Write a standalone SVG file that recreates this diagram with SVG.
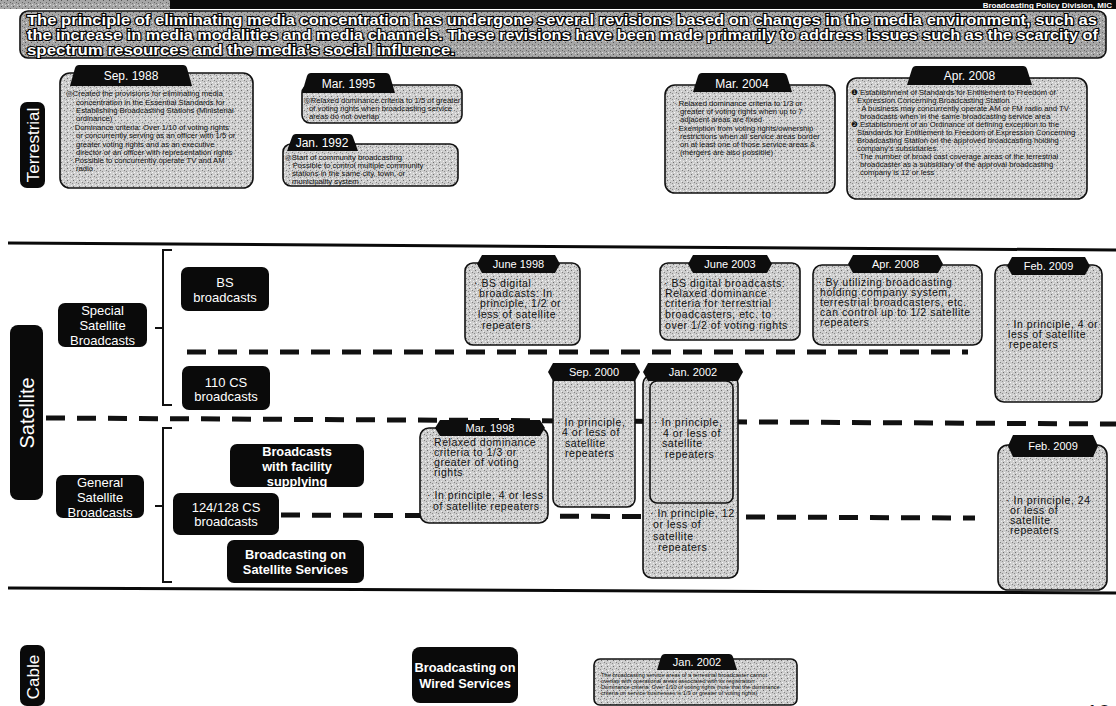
<svg xmlns="http://www.w3.org/2000/svg" width="1116" height="706" viewBox="0 0 1116 706">
<style>
text{font-family:"Liberation Sans","DejaVu Sans",Arial,sans-serif}
.box{fill:url(#ht);stroke:#111;stroke-width:1.6}
.tab{fill:#0d0d0d}
.tt{fill:#fff;font-size:12px;text-anchor:middle}
.ts{fill:#fff;font-size:11px;text-anchor:middle}
.sm{fill:#111;font-size:7.7px}
.xs{fill:#111;font-size:5.7px}
.md{fill:#111;font-size:10.5px;letter-spacing:0.55px}
.lbl{fill:#0a0a0a}
.lt{fill:#fff;font-size:13px;text-anchor:middle}
.lb{fill:#fff;font-size:12.8px;font-weight:bold;text-anchor:middle}
.div{stroke:#0a0a0a;stroke-width:3;fill:none}
.dash{stroke:#111;stroke-width:5;stroke-dasharray:19 12;fill:none}
.brk{stroke:#111;stroke-width:2;fill:none}
.ban{fill:#fff;stroke:#000;stroke-width:2.2;paint-order:stroke;font-size:14px;font-weight:bold}
</style>
<defs>
<pattern id="ht" width="6" height="6" patternUnits="userSpaceOnUse">
<rect width="6" height="6" fill="#cdcdcd"/>
<rect x="1" y="0" width="1" height="1" fill="#6e6e6e"/>
<rect x="4" y="2" width="1" height="1" fill="#808080"/>
<rect x="2" y="4" width="1" height="1" fill="#fafafa"/>
<rect x="0" y="3" width="1" height="1" fill="#8c8c8c"/>
<rect x="5" y="5" width="1" height="1" fill="#f0f0f0"/>
<rect x="3" y="1" width="1" height="1" fill="#eeeeee"/>
</pattern>
<pattern id="ht2" width="6" height="6" patternUnits="userSpaceOnUse">
<rect width="6" height="6" fill="#a6a6a6"/>
<rect x="1" y="0" width="1" height="1" fill="#555"/>
<rect x="4" y="2" width="1" height="1" fill="#666"/>
<rect x="2" y="4" width="1" height="1" fill="#e0e0e0"/>
<rect x="0" y="3" width="1" height="1" fill="#707070"/>
<rect x="5" y="5" width="1" height="1" fill="#d8d8d8"/>
</pattern>
</defs>
<rect width="1116" height="706" fill="#fff"/>

<g id="header">
<rect x="0" y="0" width="170" height="9" fill="url(#ht2)"/>
<rect x="170" y="0" width="946" height="9" fill="#0a0a0a"/>
<text x="1112" y="8" fill="#fff" font-size="8" font-weight="bold" text-anchor="end">Broadcasting Policy Division, MIC</text>
</g>

<g id="banner">
<rect x="20" y="11" width="1086" height="47" rx="8" fill="url(#ht2)" stroke="#111" stroke-width="1.6"/>
<text class="ban" x="27" y="24.5" textLength="1070" lengthAdjust="spacingAndGlyphs">The principle of eliminating media concentration has undergone several revisions based on changes in the media environment, such as</text>
<text class="ban" x="27" y="39.5" textLength="1071" lengthAdjust="spacingAndGlyphs">the increase in media modalities and media channels. These revisions have been made primarily to address issues such as the scarcity of</text>
<text class="ban" x="27" y="54.5" textLength="428" lengthAdjust="spacingAndGlyphs">spectrum resources and the media's social influence.</text>
</g>

<g id="connectors">
<line class="div" x1="8" y1="243" x2="1116" y2="250"/>
<line class="div" x1="8" y1="588" x2="1116" y2="593"/>
<line class="dash" x1="187" y1="352" x2="968" y2="352"/>
<line class="dash" x1="46" y1="418" x2="1116" y2="424"/>
<line class="dash" x1="281" y1="515" x2="975" y2="518"/>
<path class="brk" d="M172,250 H163 V405 H172 M163,328 H155"/>
<path class="brk" d="M172,428 H163 V582 H172 M163,506 H155"/>
</g>

<g id="lbl-terrestrial">
<rect class="lbl" x="20" y="102" width="25" height="86" rx="7"/>
<text x="0" y="0" transform="translate(38.5,145) rotate(-90)" fill="#fff" font-size="17" text-anchor="middle">Terrestrial</text>
</g>
<g id="lbl-satellite">
<rect class="lbl" x="10" y="325" width="33" height="175" rx="8"/>
<text x="0" y="0" transform="translate(34,413) rotate(-90)" fill="#fff" font-size="20" text-anchor="middle">Satellite</text>
</g>
<g id="lbl-cable">
<rect class="lbl" x="20" y="645" width="25" height="61" rx="7"/>
<text x="0" y="0" transform="translate(38.5,677) rotate(-90)" fill="#fff" font-size="17" text-anchor="middle">Cable</text>
</g>

<g id="special">
<rect class="lbl" x="58" y="303" width="89" height="44" rx="7"/>
<text class="lt" x="102.5" y="314.5">Special</text>
<text class="lt" x="102.5" y="329.5">Satellite</text>
<text class="lt" x="102.5" y="344.5">Broadcasts</text>
</g>
<g id="bs">
<rect class="lbl" x="181" y="267" width="88" height="44" rx="7"/>
<text class="lt" x="225" y="286.5">BS</text>
<text class="lt" x="225" y="301.5">broadcasts</text>
</g>
<g id="cs110">
<rect class="lbl" x="182" y="366" width="88" height="44" rx="7"/>
<text class="lt" x="226" y="386.5">110  CS</text>
<text class="lt" x="226" y="400.5">broadcasts</text>
</g>
<g id="general">
<rect class="lbl" x="56" y="475" width="88" height="43" rx="7"/>
<text class="lt" x="100" y="486.5">General</text>
<text class="lt" x="100" y="501.5">Satellite</text>
<text class="lt" x="100" y="516.5">Broadcasts</text>
</g>
<g id="facility">
<rect class="lbl" x="230" y="444" width="134" height="43" rx="7"/>
<text class="lb" x="297" y="455.5">Broadcasts</text>
<text class="lb" x="297" y="470.5">with facility</text>
<text class="lb" x="297" y="485.5">supplying</text>
</g>
<g id="cs124">
<rect class="lbl" x="173" y="493" width="106" height="42" rx="7"/>
<text class="lt" x="226" y="511.5">124/128  CS</text>
<text class="lt" x="226" y="526">broadcasts</text>
</g>
<g id="satsvc">
<rect class="lbl" x="227" y="540" width="137" height="43" rx="7"/>
<text class="lb" x="295.5" y="558.5">Broadcasting on</text>
<text class="lb" x="295.5" y="573.5">Satellite Services</text>
</g>
<g id="wired">
<rect class="lbl" x="412" y="647" width="106" height="56" rx="8"/>
<text class="lb" x="465" y="672" font-size="12.2">Broadcasting on</text>
<text class="lb" x="465" y="688" font-size="12.2">Wired Services</text>
</g>

<g id="t-1988">
<rect class="box" x="60" y="73" width="193" height="115" rx="10"/>
<path class="tab" d="M70,86 L75,68 Q76,65 79,65 L183,65 Q186,65 187,68 L192,86 Z"/>
<text class="tt" x="131" y="80">Sep. 1988</text>
<text class="sm" x="66" y="96">◎Created the provisions for eliminating media</text>
<text class="sm" x="76" y="105">concentration in the Essential Standards for</text>
<text class="sm" x="76" y="113">Establishing Broadcasting Stations (Ministerial</text>
<text class="sm" x="76" y="121">ordinance)</text>
<text class="sm" x="70" y="130">· Dominance criteria: Over 1/10 of voting rights</text>
<text class="sm" x="76" y="138">or concurrently serving as an officer with 1/5 or</text>
<text class="sm" x="76" y="147">greater voting rights and as an executive</text>
<text class="sm" x="76" y="155">director or an officer with representation rights</text>
<text class="sm" x="70" y="163">· Possible to concurrently operate TV and AM</text>
<text class="sm" x="76" y="171">radio</text>
</g>

<g id="t-1995">
<rect class="box" x="302" y="85" width="160" height="38" rx="8"/>
<path class="tab" d="M302,93 L307,76 Q308,73 311,73 L386,73 Q389,73 390,76 L395,93 Z"/>
<text class="tt" x="348.5" y="88">Mar. 1995</text>
<text class="sm" x="304" y="103">◎Relaxed dominance criteria to 1/5 of greater</text>
<text class="sm" x="309" y="111">of voting rights when broadcasting service</text>
<text class="sm" x="309" y="119">areas do not overlap</text>
</g>

<g id="t-1992">
<rect class="box" x="283" y="144" width="175" height="42" rx="8"/>
<path class="tab" d="M287,151 L292,137 Q293,134 296,134 L349,134 Q352,134 353,137 L358,151 Z"/>
<text class="tt" x="322" y="147">Jan. 1992</text>
<text class="sm" x="285" y="160">◎Start of community broadcasting</text>
<text class="sm" x="288" y="168">· Possible to control multiple community</text>
<text class="sm" x="292" y="176">stations in the same city, town, or</text>
<text class="sm" x="292" y="184">municipality system</text>
</g>

<g id="t-2004">
<rect class="box" x="665" y="85" width="170" height="108" rx="10"/>
<path class="tab" d="M693,92 L698,76 Q699,73 702,73 L783,73 Q786,73 787,76 L792,92 Z"/>
<text class="tt" x="742" y="88">Mar. 2004</text>
<text class="sm" x="674" y="106">· Relaxed dominance criteria to 1/3 or</text>
<text class="sm" x="680" y="114">greater of voting rights when up to 7</text>
<text class="sm" x="680" y="122">adjacent areas are fixed</text>
<text class="sm" x="674" y="131">· Exemption from voting rights/ownership</text>
<text class="sm" x="680" y="139">restrictions when all service areas border</text>
<text class="sm" x="680" y="147">on at least one of those service areas &amp;</text>
<text class="sm" x="680" y="155">(mergers are also possible)</text>
</g>

<g id="t-2008">
<rect class="box" x="847" y="78" width="240" height="121" rx="10"/>
<path class="tab" d="M907,85 L912,69 Q913,66 916,66 L1023,66 Q1026,66 1027,69 L1032,85 Z"/>
<text class="tt" x="969.5" y="80">Apr. 2008</text>
<text class="sm" x="851" y="95">❶ Establishment of Standards for Entitlement to Freedom of</text>
<text class="sm" x="857" y="103">Expression Concerning Broadcasting Station</text>
<text class="sm" x="857" y="111">· A business may concurrently operate AM or FM radio and TV</text>
<text class="sm" x="860" y="119">broadcasts when in the same broadcasting service area</text>
<text class="sm" x="851" y="127">❷ Establishment of an Ordinance of defining exception to the</text>
<text class="sm" x="857" y="135">Standards for Entitlement to Freedom of Expression Concerning</text>
<text class="sm" x="857" y="143">Broadcasting Station on the approved broadcasting holding</text>
<text class="sm" x="857" y="151">company's subsidiaries</text>
<text class="sm" x="855" y="159">· The number of broad cast coverage areas of the terrestrial</text>
<text class="sm" x="860" y="167">broadcaster as a subsidiary of the approval broadcasting</text>
<text class="sm" x="860" y="175">company is 12 or less</text>
</g>

<g id="s-1998-bs">
<rect class="box" x="465" y="263" width="115" height="82" rx="8"/>
<path class="tab" d="M477,264 L482,255 L555,255 L560,264 L555,273 L482,273 Z"/>
<text class="ts" x="518.5" y="268">June 1998</text>
<text class="md" x="474" y="287">· BS digital</text>
<text class="md" x="479" y="297">broadcasts: In</text>
<text class="md" x="480" y="307">principle, 1/2 or</text>
<text class="md" x="478" y="318">less of satellite</text>
<text class="md" x="482" y="329">repeaters</text>
</g>

<g id="s-2003">
<rect class="box" x="660" y="263" width="140" height="77" rx="8"/>
<path class="tab" d="M688,264 L693,255 L767,255 L772,264 L767,273 L693,273 Z"/>
<text class="ts" x="730" y="268">June 2003</text>
<text class="md" x="664" y="287">· BS digital broadcasts:</text>
<text class="md" x="665" y="297">Relaxed dominance</text>
<text class="md" x="665" y="307">criteria for terrestrial</text>
<text class="md" x="665" y="318">broadcasters, etc. to</text>
<text class="md" x="665" y="329">over 1/2 of voting rights</text>
</g>

<g id="s-2008">
<rect class="box" x="813" y="265" width="169" height="80" rx="9"/>
<path class="tab" d="M848,264 L853,255 L938,255 L943,264 L938,273 L853,273 Z"/>
<text class="ts" x="895.5" y="268">Apr. 2008</text>
<text class="md" x="818" y="286">· By utilizing broadcasting</text>
<text class="md" x="820" y="296">holding company system,</text>
<text class="md" x="820" y="306">terrestrial broadcasters, etc.</text>
<text class="md" x="820" y="316">can control up to 1/2 satellite</text>
<text class="md" x="820" y="326">repeaters</text>
</g>

<g id="s-2009-bs">
<rect class="box" x="995" y="265" width="107" height="137" rx="9"/>
<path class="tab" d="M1007,266 L1012,257 L1085,257 L1090,266 L1085,275 L1012,275 Z"/>
<text class="ts" x="1048.5" y="270">Feb. 2009</text>
<text class="md" x="1006" y="328">· In principle, 4 or</text>
<text class="md" x="1008" y="338">less of satellite</text>
<text class="md" x="1009" y="348">repeaters</text>
</g>

<g id="s-2000">
<rect class="box" x="553" y="375" width="82" height="132" rx="8"/>
<path class="tab" d="M548,372 L553,363 L635,363 L640,372 L635,381 L553,381 Z"/>
<text class="ts" x="594" y="376">Sep. 2000</text>
<text class="md" x="557" y="426">· In principle,</text>
<text class="md" x="562" y="436">4 or less of</text>
<text class="md" x="565" y="447">satellite</text>
<text class="md" x="565" y="457">repeaters</text>
</g>

<g id="s-2002">
<rect class="box" x="643" y="375" width="95" height="203" rx="9"/>
<rect class="box" x="650" y="381" width="83" height="122" rx="7"/>
<path class="tab" d="M643,372 L648,363 L738,363 L743,372 L738,381 L648,381 Z"/>
<text class="ts" x="693" y="376">Jan. 2002</text>
<text class="md" x="654" y="426">· In principle,</text>
<text class="md" x="663" y="437">4 or less of</text>
<text class="md" x="662" y="447">satellite</text>
<text class="md" x="665" y="458">repeaters</text>
<text class="md" x="650" y="517">· In principle, 12</text>
<text class="md" x="653" y="528">or less of</text>
<text class="md" x="653" y="540">satellite</text>
<text class="md" x="658" y="551">repeaters</text>
</g>

<g id="s-1998-cs">
<rect class="box" x="420" y="428" width="128" height="95" rx="9"/>
<path class="tab" d="M435,428 L440,420 L540,420 L545,428 L540,436 L440,436 Z"/>
<text class="ts" x="490" y="432">Mar. 1998</text>
<text class="md" x="434" y="446" font-size="9.5" letter-spacing="1.2">Relaxed dominance</text>
<text class="md" x="434" y="456" font-size="9.5" letter-spacing="1.2">criteria to 1/3 or</text>
<text class="md" x="434" y="466" font-size="9.5" letter-spacing="1.2">greater of voting</text>
<text class="md" x="434" y="476" font-size="9.5" letter-spacing="1.2">rights</text>
<text class="md" x="427" y="499">· In principle, 4 or less</text>
<text class="md" x="433" y="510">of satellite repeaters</text>
</g>

<g id="s-2009-cs">
<rect class="box" x="998" y="445" width="109" height="145" rx="10"/>
<path class="tab" d="M1008,446 L1013,435 L1093,435 L1098,446 L1093,457 L1013,457 Z"/>
<text class="ts" x="1053" y="450">Feb. 2009</text>
<text class="md" x="1006" y="504">· In principle, 24</text>
<text class="md" x="1010" y="514">or less of</text>
<text class="md" x="1010" y="524">satellite</text>
<text class="md" x="1010" y="534">repeaters</text>
</g>

<g id="c-2002">
<rect class="box" x="594" y="659" width="203" height="46" rx="6"/>
<path class="tab" d="M657,670 L661,657 Q662,654 665,654 L729,654 Q732,654 733,657 L737,670 Z"/>
<text class="ts" x="697" y="666">Jan. 2002</text>
<text class="xs" x="601" y="677">The broadcasting service areas of a terrestrial broadcaster cannot</text>
<text class="xs" x="601" y="683">overlap with operational areas associated with its registration</text>
<text class="xs" x="601" y="689">Dominance criteria: Over 1/10 of voting rights (note that the dominance</text>
<text class="xs" x="601" y="695">criteria on service businesses is 1/3 or greater of voting rights)</text>
</g>

<text x="1086" y="720" fill="#111" font-size="22">10</text>
</svg>
